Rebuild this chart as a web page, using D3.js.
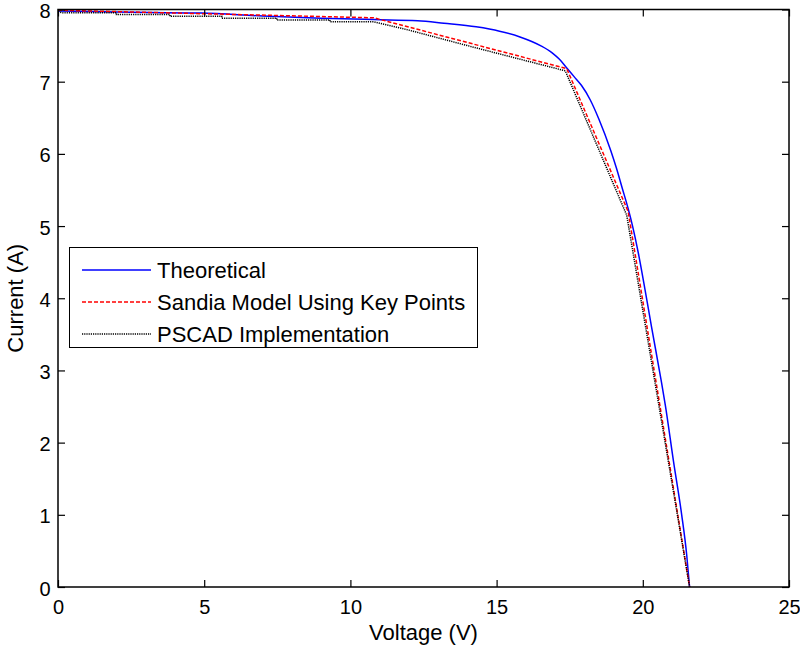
<!DOCTYPE html>
<html>
<head>
<meta charset="utf-8">
<script src="https://cdn.jsdelivr.net/npm/d3@7"></script>
<style>
  html, body { margin: 0; padding: 0; background: #fff; }
  svg { display: block; font-family: "Liberation Sans", Arial, Helvetica, sans-serif; }
</style>
</head>
<body>
<svg id="chart" width="800" height="649"></svg>
<script>
// I-V curve of a PV module: theoretical model, Sandia key-point model, PSCAD output

const xTicks = [0, 5, 10, 15, 20, 25];
const yTicks = [0, 1, 2, 3, 4, 5, 6, 7, 8];

// Theoretical single-diode curve
const theoV = [0, 2, 4.9, 7.0, 9.0, 10.8, 12.3, 13.2, 14.3, 15.1, 15.8, 16.5, 16.9, 17.15, 17.4,
  17.65, 17.9, 18.2, 18.5, 18.9, 19.1, 19.3, 19.5, 19.65, 19.85, 20.08, 20.3, 20.62, 20.77,
  21.05, 21.33, 21.5, 21.6];
const theoI = [7.98, 7.965, 7.95, 7.91, 7.88, 7.86, 7.845, 7.81, 7.76, 7.70, 7.62, 7.50, 7.40, 7.31, 7.19,
  7.07, 6.95, 6.75, 6.48, 6.05, 5.80, 5.52, 5.24, 5.00, 4.62, 4.11, 3.60, 2.88, 2.52,
  1.74, 1.00, 0.45, 0];

// Sandia model: straight segments through the five key points
const sandiaV = [0, 10.8, 17.4, 19.5, 21.6];
const sandiaI = [7.99, 7.885, 7.18, 5.2, 0];

// PSCAD implementation (stepped output)
const pscadV = [0, 0.15, 2.0, 2.0, 3.83, 3.83, 5.6, 5.6, 7.48, 7.48, 9.3, 9.3, 10.8,
  12.04, 14.0, 17.35, 19.45, 21.6];
const pscadI = [7.97, 7.955, 7.955, 7.93, 7.93, 7.905, 7.905, 7.88, 7.88, 7.855, 7.855, 7.83, 7.83,
  7.71, 7.50, 7.15, 5.15, 0];

const seriesNames = ["Theoretical", "Sandia Model Using Key Points", "PSCAD Implementation"];

const svg = d3.select("#chart");
const pLeft = 58, pRight = 789, pTop = 9.5, pBottom = 587;

const x = d3.scaleLinear().domain([0, 25]).range([pLeft, pRight]);
const y = d3.scaleLinear().domain([0, 8]).range([pBottom, pTop]);

const styles = [
  { color: "#0000ff", dash: null, curve: d3.curveMonotoneX },
  { color: "#ff0000", dash: "4,2", curve: d3.curveLinear },
  { color: "#000000", dash: "1.2,1", curve: d3.curveLinear }
];

const zip = (vs, is) => vs.map((v, k) => [v, is[k]]);
const data = [zip(theoV, theoI), zip(sandiaV, sandiaI), zip(pscadV, pscadI)];

// curves
const g = svg.append("g");
data.forEach((pts, k) => {
  const line = d3.line().x(d => x(d[0])).y(d => y(d[1])).curve(styles[k].curve);
  g.append("path").datum(pts)
    .attr("d", line)
    .attr("fill", "none")
    .attr("stroke", styles[k].color)
    .attr("stroke-width", 1.5)
    .attr("stroke-dasharray", styles[k].dash);
});

// axes with inward ticks on all four sides
const tickLen = 7;
const tickFs = 20;
const labelFs = 22;
svg.append("g").attr("transform", `translate(0,${pBottom})`)
  .call(d3.axisBottom(x).tickValues(xTicks).tickSize(-tickLen).tickPadding(13))
  .call(a => a.select(".domain").remove());
svg.append("g").attr("transform", `translate(0,${pTop})`)
  .call(d3.axisTop(x).tickValues(xTicks).tickSize(-tickLen).tickFormat(""))
  .call(a => a.select(".domain").remove());
svg.append("g").attr("class", "yleft").attr("transform", `translate(${pLeft},0)`)
  .call(d3.axisLeft(y).tickValues(yTicks).tickSize(-tickLen).tickPadding(7.5))
  .call(a => a.select(".domain").remove());
svg.append("g").attr("transform", `translate(${pRight},0)`)
  .call(d3.axisRight(y).tickValues(yTicks).tickSize(-tickLen).tickFormat(""))
  .call(a => a.select(".domain").remove());

svg.selectAll(".tick line").attr("stroke", "#000").attr("stroke-width", 1.2);
svg.selectAll(".tick text").attr("fill", "#000").style("font-size", tickFs + "px")
  .style("font-family", "'Liberation Sans', Arial, sans-serif");
svg.selectAll(".yleft .tick text").attr("dy", "0.4em");

// frame
svg.append("rect").attr("x", pLeft).attr("y", pTop)
  .attr("width", pRight - pLeft).attr("height", pBottom - pTop)
  .attr("fill", "none").attr("stroke", "#000").attr("stroke-width", 1.5);

// axis titles
svg.append("text").attr("x", (pLeft + pRight) / 2).attr("y", 640)
  .attr("text-anchor", "middle").style("font-size", labelFs + "px").text("Voltage (V)");
svg.append("text")
  .attr("transform", `translate(23,${(pTop + pBottom) / 2}) rotate(-90)`)
  .attr("text-anchor", "middle").style("font-size", labelFs + "px").text("Current (A)");

// legend
const lg = svg.append("g");
lg.append("rect").attr("x", 69.5).attr("y", 247.5).attr("width", 408).attr("height", 100)
  .attr("fill", "#fff").attr("stroke", "#000").attr("stroke-width", 1);
seriesNames.forEach((name, k) => {
  const ly = 270 + k * 32;
  lg.append("line").attr("x1", 82).attr("x2", 151).attr("y1", ly).attr("y2", ly)
    .attr("stroke", styles[k].color).attr("stroke-width", 1.5)
    .attr("stroke-dasharray", styles[k].dash);
  lg.append("text").attr("x", 157).attr("y", ly + 8)
    .style("font-size", labelFs + "px").text(name);
});
</script>
</body>
</html>
